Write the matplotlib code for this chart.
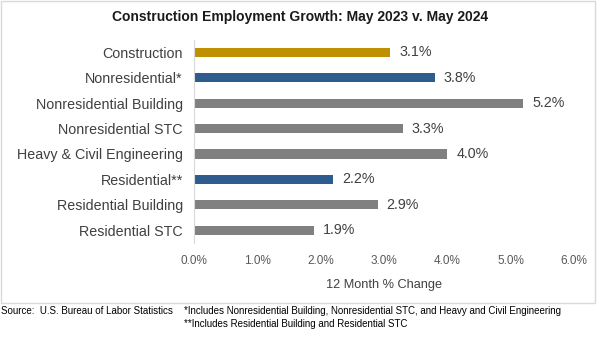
import matplotlib.pyplot as plt
from matplotlib.patches import Rectangle

plt.rcParams['font.family'] = ['Liberation Sans', 'DejaVu Sans']

categories = ['Construction', 'Nonresidential*', 'Nonresidential Building',
              'Nonresidential STC', 'Heavy & Civil Engineering', 'Residential**',
              'Residential Building', 'Residential STC']
values = [3.1, 3.8, 5.2, 3.3, 4.0, 2.2, 2.9, 1.9]
bar_colors = ['#BF9000', '#2E5C8E', '#808080', '#808080', '#808080',
              '#2E5C8E', '#808080', '#808080']
xticks = [0, 1, 2, 3, 4, 5, 6]

W, H = 600, 339
fig = plt.figure(figsize=(6, 3.39), dpi=100)
ax = fig.add_axes([194 / W, 1 - 243 / H, 380 / W, 203.5 / H])

ypos = list(range(len(categories)))
ax.barh(ypos, values, height=0.36, color=bar_colors)
for y, v in zip(ypos, values):
    ax.text(v + 0.14, y, f'{v:.1f}%', va='center', ha='left',
            fontsize=10.3, color='#404040')

ax.set_xlim(0, 6)
ax.set_ylim(len(categories) - 0.5, -0.5)
ax.set_yticks(ypos)
ax.set_yticklabels(categories, fontsize=10.3, color='#404040')
ax.set_xticks(xticks)
ax.set_xticklabels([f'{t:.1f}%' for t in xticks], fontsize=8.5, color='#595959')
ax.tick_params(axis='both', length=0)
ax.tick_params(axis='x', pad=8.5)
ax.tick_params(axis='y', pad=8)
for s in ['top', 'right', 'bottom']:
    ax.spines[s].set_visible(False)
ax.spines['left'].set_color('#D9D9D9')
ax.set_xlabel('12 Month % Change', fontsize=9.2, color='#404040', labelpad=9)

fig.text(0.5, 1 - 17 / H, 'Construction Employment Growth: May 2023 v. May 2024',
         ha='center', va='center', fontsize=10, fontweight='bold', color='#1a1a1a')

fig.patches.append(Rectangle((1 / W, 1 - 303 / H), 594 / W, 302 / H,
                             transform=fig.transFigure, fill=False,
                             edgecolor='#D9D9D9', linewidth=1))

fig.text(1 / W, 1 - 311 / H, 'Source:  U.S. Bureau of Labor Statistics',
         ha='left', va='center', fontsize=7, color='black')
fig.text(184 / W, 1 - 311 / H,
         '*Includes Nonresidential Building, Nonresidential STC, and Heavy and Civil Engineering',
         ha='left', va='center', fontsize=7, color='black')
fig.text(184 / W, 1 - 324 / H, '**Includes Residential Building and Residential STC',
         ha='left', va='center', fontsize=7, color='black')

fig.savefig('out.png', dpi=100)
